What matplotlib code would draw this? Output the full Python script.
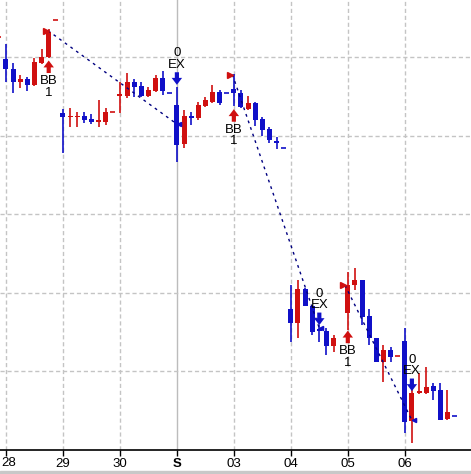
import numpy as np
import matplotlib.pyplot as plt
from matplotlib.patches import Rectangle

plt.rcParams['font.family'] = ['Liberation Sans', 'DejaVu Sans']

# ========================
# 数据 (3小时K线, 价格单位为任意刻度)
# ========================
idx = list(range(-1, 64))
opens = [52.6, 49.8, 48.5, 46.9, 47.3, 46.5, 49.3, 50.1, 54.8,
         42.9, 42.4, 42.4, 42.5, 42.2, 41.8, 41.8, 43.1,
         45.1, 45.1, 46.8, 46.4, 45.1, 45.7, 47.4, 45.5,
         43.9, 39.0, 42.4, 42.3, 43.8, 44.3, 45.6, 45.5,
         46.0, 45.5, 43.4, 44.2, 42.2, 40.9, 39.4, 38.5,
         18.0, 16.2, 20.5, 18.3, 15.4, 15.2, 13.2, np.nan,
         17.5, 21.0, 21.7, 17.1, 14.3, 11.2, 12.7, 12.0,
         13.9, 3.7, 7.3, 7.3, 8.2, 7.6, 3.9, 4.3]
closes = [52.6, 48.5, 46.9, 47.3, 46.5, 49.4, 50.1, 53.2, 54.8,
          42.4, 42.5, 42.5, 42.0, 41.8, 41.9, 43.1, 43.1,
          45.2, 46.8, 46.2, 45.1, 45.9, 47.4, 45.7, 45.5,
          38.9, 42.5, 42.3, 43.9, 44.6, 45.6, 44.2, 45.5,
          45.5, 43.7, 44.2, 42.0, 40.8, 39.5, 39.1, 38.5,
          16.2, 20.5, 18.3, 15.0, 15.2, 13.2, 14.3, np.nan,
          21.0, 21.7, 16.9, 14.3, 11.2, 12.7, 11.8, 12.0,
          3.6, 7.3, 7.5, 8.0, 7.5, 3.8, 4.8, 4.3]
highs = [52.6, 51.7, 49.3, 47.8, 47.5, 49.9, 51.1, 53.6, 54.8,
         43.4, 43.6, 43.1, 43.1, 42.8, 44.6, 43.6, 43.1,
         46.8, 48.0, 47.3, 46.8, 46.2, 47.8, 48.2, 45.5,
         46.2, 43.3, 43.1, 44.3, 45.0, 46.5, 45.9, 45.5,
         47.9, 45.9, 45.1, 44.3, 42.4, 41.1, 39.9, 38.5,
         21.0, 21.7, 20.6, 18.5, 15.9, 15.5, 14.6, np.nan,
         22.7, 23.2, 21.7, 18.0, 14.3, 13.4, 13.1, 12.0,
         15.5, 7.9, 9.8, 10.6, 8.5, 8.5, 7.6, 4.3]
lows = [52.6, 46.8, 45.5, 46.1, 45.7, 46.4, 49.2, 49.9, 54.8,
        37.8, 41.1, 41.1, 41.7, 41.5, 41.1, 41.4, 43.1,
        42.9, 44.8, 45.0, 45.0, 45.0, 45.6, 45.2, 45.5,
        36.7, 38.5, 41.4, 42.0, 43.7, 44.2, 43.9, 45.5,
        43.8, 43.6, 43.3, 41.3, 40.0, 39.1, 38.3, 38.5,
        13.8, 14.3, 18.3, 14.6, 13.8, 12.1, 12.5, np.nan,
        15.3, 20.4, 15.9, 13.4, 11.2, 8.7, 11.2, 12.0,
        2.2, 0.9, 7.1, 7.1, 6.4, 3.8, 3.8, 4.3]
# 1 = 红(阳线), 0 = 蓝(阴线)
up = [1, 0, 0, 1, 0, 1, 1, 1, 1,
      0, 1, 1, 0, 0, 1, 1, 1,
      1, 1, 0, 0, 1, 1, 0, 0,
      0, 1, 0, 1, 1, 1, 0, 0,
      0, 0, 1, 0, 0, 0, 0, 0,
      0, 1, 0, 0, 0, 0, 1, 0,
      1, 1, 0, 0, 0, 1, 0, 1,
      0, 1, 1, 1, 0, 0, 1, 0]

day_idx = [0, 8, 16, 24, 32, 40, 48, 56]
day_labels = ['28', '29', '30', 'S', '03', '04', '05', '06']
price_grid = [10, 20, 30, 40, 50]

# 交易: 入场(索引, 价格) -> 出场(索引, 价格)
entry_i = [5.9, 31.8, 47.6]
entry_p = [53.4, 47.8, 21.0]
exit_i = [24.0, 44.0, 57.0]
exit_p = [41.5, 15.5, 3.8]

# 信号标注: BB(买入, 箭头在下方) / EX(出场, 箭头在上方)
bb_i = [6, 32, 48]
bb_tip = [49.6, 43.4, 15.2]
ex_i = [24, 44, 57]
ex_tip = [46.5, 15.9, 7.5]

RED = '#d01010'
BLUE = '#1010c8'
NAVY = '#000080'
GRID = '#c4c4c4'

# ========================
# 绘图
# ========================
fig = plt.figure(figsize=(4.71, 4.74), dpi=100)
ax = fig.add_axes([0, 24 / 474, 1, 450 / 474])
ax.set_xlim(-0.84, 65.3)
ax.set_ylim(0, 57.3)

for x in day_idx:
    if x == 24:
        ax.axvline(x, color='#bcbcbc', lw=1, zorder=0)
    else:
        ax.axvline(x, color=GRID, lw=1, ls=(0, (3, 2)), zorder=0)
for p in price_grid:
    ax.axhline(p, color=GRID, lw=1, ls=(0, (3, 2)), zorder=0)

for i, o, c, h, l, u in zip(idx, opens, closes, highs, lows, up):
    if np.isnan(o):
        continue
    col = RED if u else BLUE
    if h - l < 0.05:
        ax.hlines(h, i - 0.35, i + 0.35, color=col, lw=1.2, zorder=3)
        continue
    ax.vlines(i, l, h, color=col, lw=1.2, zorder=2)
    bot = min(o, c)
    hgt = max(abs(c - o), 0.18)
    ax.bar(i, hgt, bottom=bot, width=0.7, color=col, lw=0, zorder=3)

for a, pa, b, pb in zip(entry_i, entry_p, exit_i, exit_p):
    ax.plot([a, b], [pa, pb], color=NAVY, lw=1, ls=(0, (2, 3)), zorder=4)
    ax.plot(a - 0.3, pa, marker='>', ms=4, color=RED, zorder=5)
    ax.plot(b + 0.3, pb, marker='<', ms=3, color=BLUE, zorder=5)

arrow_style = 'simple,head_length=0.5,head_width=0.75,tail_width=0.3'
for i, t in zip(bb_i, bb_tip):
    ax.annotate('', xy=(i, t), xytext=(i, t - 1.6),
                arrowprops=dict(arrowstyle=arrow_style, color=RED, lw=0,
                                mutation_scale=10, shrinkA=0, shrinkB=0), zorder=6)
    ax.text(i, t - 2.6, 'BB', ha='center', va='center', fontsize=9.5, zorder=6)
    ax.text(i, t - 4.1, '1', ha='center', va='center', fontsize=9.5, zorder=6)

for i, t in zip(ex_i, ex_tip):
    ax.annotate('', xy=(i, t), xytext=(i, t + 1.6),
                arrowprops=dict(arrowstyle=arrow_style, color=BLUE, lw=0,
                                mutation_scale=10, shrinkA=0, shrinkB=0), zorder=6)
    ax.text(i, t + 2.5, 'EX', ha='center', va='center', fontsize=9.5, zorder=6)
    ax.text(i, t + 4.0, '0', ha='center', va='center', fontsize=9.5, zorder=6)

for s in ['top', 'right', 'left']:
    ax.spines[s].set_visible(False)
ax.spines['bottom'].set_linewidth(1.2)
ax.set_yticks([])
ax.set_xticks(day_idx)
ax.set_xticklabels([''] + day_labels[1:], fontsize=9.5)
ax.tick_params(axis='x', length=4, width=1, pad=2)
for lab in ax.get_xticklabels():
    if lab.get_text() == 'S':
        lab.set_fontweight('bold')
# 第一个标签贴左边缘
fig.text(1 / 471, 1 - 463 / 474, day_labels[0], ha='left', va='center', fontsize=9.5)

fig.patches.append(Rectangle((0, 0), 1, 3 / 474, transform=fig.transFigure,
                             color='#c8c8c8', zorder=0))

plt.savefig('out.png', dpi=100)
